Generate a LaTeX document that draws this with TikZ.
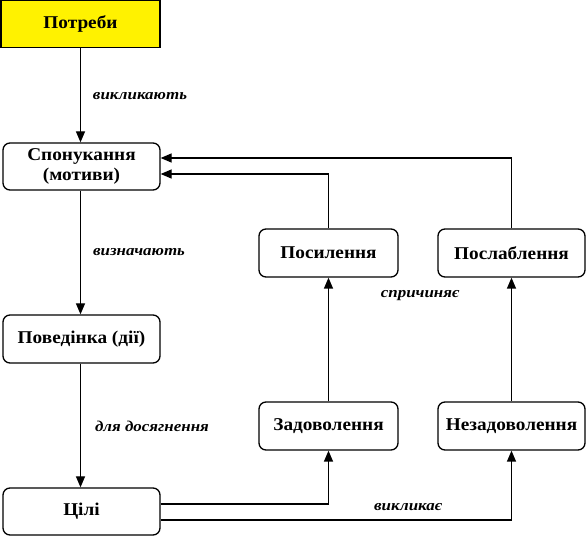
\documentclass[tikz,border=0pt]{standalone}
\usepackage{fontspec}
\setmainfont{Liberation Serif}
\newfontfamily\boxfont{Liberation Serif}[FakeStretch=1.07]
\newfontfamily\lblfont{Liberation Serif}[FakeStretch=1.13]
\usetikzlibrary{arrows.meta,calc}
\tikzset{
  box/.style={draw, line width=1.3pt, rounded corners=7pt, align=center,
    font=\boxfont\fontsize{18}{20}\selectfont\bfseries, inner sep=0pt},
  lbl/.style={font=\lblfont\fontsize{15}{17}\selectfont\bfseries\itshape, inner sep=0pt},
  arr/.style={line width=1.3pt, -{Triangle[length=11pt,width=9pt]}},
}
\begin{document}
\begin{tikzpicture}[x=1pt,y=-1pt]
\useasboundingbox (0,0) rectangle (587,537);
\node[box, rounded corners=0pt, fill=yellow, minimum width=159pt, minimum height=47pt] (potr) at (80.5,24) {Потреби};
\node[box, minimum width=157pt, minimum height=47pt] (spon) at (81.5,166.5) {Спонукання\\(мотиви)};
\node[box, minimum width=157pt, minimum height=48pt] (pov) at (81.5,339) {Поведінка (дії)};
\node[box, minimum width=157pt, minimum height=47pt] (cili) at (81.5,511.5) {Цілі};
\node[box, minimum width=139pt, minimum height=48pt] (posyl) at (328.5,253) {Посилення};
\node[box, minimum width=147pt, minimum height=48pt] (poslab) at (511.5,253) {Послаблення};
\node[box, minimum width=139pt, minimum height=48pt] (zad) at (328.5,426) {Задоволення};
\node[box, minimum width=147pt, minimum height=48pt] (nezad) at (511.5,426) {Незадоволення};
\node[lbl] (l1) at (140,96) {викликають};
\node[lbl] (l2) at (139,252) {визначають};
\node[lbl] (l3) at (152,426) {для досягнення};
\node[lbl] (l4) at (420,296) {спричиняє};
\node[lbl] (l5) at (408,507) {викликає};
\coordinate (ax) at (80.5,0);
\draw[arr] (potr.south -| ax) -- (spon.north -| ax);
\draw[arr] (spon.south -| ax) -- (pov.north -| ax);
\draw[arr] (pov.south -| ax) -- (cili.north -| ax);
\draw[arr] (zad.north) -- (posyl.south);
\draw[arr] (nezad.north) -- (poslab.south);
\draw[arr] ([yshift=7.5pt]cili.east) -| (zad.south);
\draw[arr] ([yshift=-8.5pt]cili.east) -| (nezad.south);
\draw[arr] (posyl.north) |- ([yshift=-7.5pt]spon.east);
\draw[arr] (poslab.north) |- ([yshift=8.5pt]spon.east);
\end{tikzpicture}
\end{document}
